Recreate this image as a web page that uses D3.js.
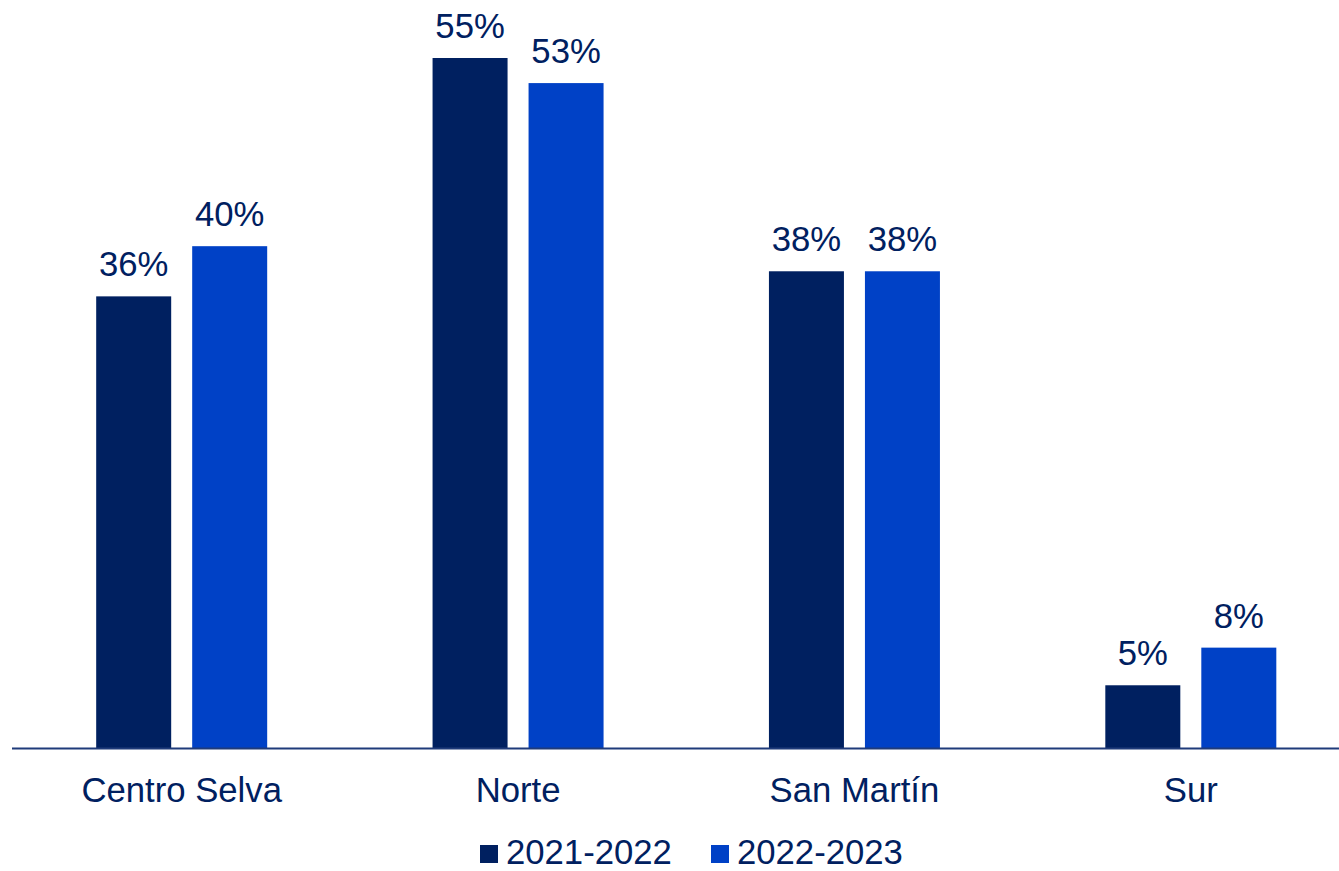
<!DOCTYPE html>
<html><head><meta charset="utf-8">
<script src="https://cdn.jsdelivr.net/npm/d3@7"></script>
<style>body{margin:0;background:#fff}svg{display:block}text{font-family:"Liberation Sans",Arial,sans-serif}</style>
</head><body><svg id="c" width="1339" height="871"></svg>
<script>
const categories = ["Centro Selva","Norte","San Martín","Sur"];
const seriesNames = ["2021-2022","2022-2023"];
const values2122 = [36,55,38,5];
const values2223 = [40,53,38,8];
const colors = ["#002060","#0041C6"];
const textColor = "#002060";

const svg = d3.select("#c");
const baseY = 748;
const x = d3.scaleBand().domain(categories).range([13.5,1359]).paddingInner(0).paddingOuter(0);
const y = d3.scaleLinear().domain([0,55]).range([baseY,58]);
const barW = 75, gap = 21;
const data = categories.map((c,i)=>({cat:c, vals:[values2122[i], values2223[i]]}));

const g = svg.append("g");
data.forEach(d=>{
  const cx = x(d.cat) + x.bandwidth()/2;
  d.vals.forEach((v,j)=>{
    const bx = j===0 ? cx - gap/2 - barW : cx + gap/2;
    g.append("rect").attr("x",bx).attr("y",y(v)).attr("width",barW).attr("height",baseY-y(v)).attr("fill",colors[j]);
    g.append("text").attr("x",bx+barW/2).attr("y",y(v)-20).attr("text-anchor","middle")
      .attr("font-size",34.7).attr("fill",textColor).text(v+"%");
  });
});

const axis = d3.axisBottom(x).tickSize(0).tickPadding(0);
const ax = svg.append("g").attr("transform",`translate(0,${baseY})`).call(axis);
ax.select(".domain").remove();
ax.selectAll("text").attr("font-size",34.7).attr("fill",textColor).attr("dy",null).attr("y",54)
  .attr("font-family",'"Liberation Sans",Arial,sans-serif');
svg.append("line").attr("x1",12).attr("x2",1339).attr("y1",baseY+0.5).attr("y2",baseY+0.5)
  .attr("stroke","#1F3B7A").attr("stroke-width",2);

const legX = [480,711];
seriesNames.forEach((s,i)=>{
  svg.append("rect").attr("x",legX[i]).attr("y",845).attr("width",18).attr("height",18).attr("fill",colors[i]);
  svg.append("text").attr("x",legX[i]+26).attr("y",864).attr("font-size",34.7).attr("fill",textColor).text(s);
});
</script></body></html>
